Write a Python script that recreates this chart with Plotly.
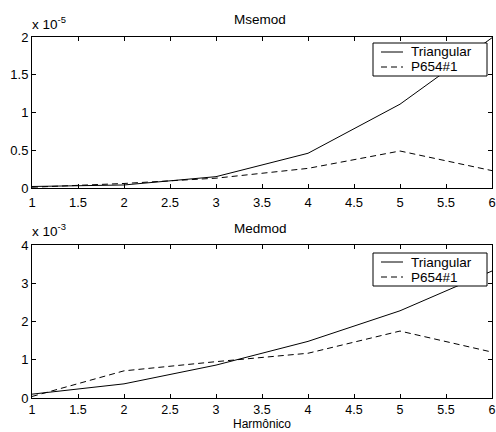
import plotly.graph_objects as go

harm = [1, 2, 3, 4, 5, 6]
# Msemod (x 1e-5)
msemod_tri = [0.02, 0.04, 0.15, 0.46, 1.11, 1.99]
msemod_p654 = [0.01, 0.06, 0.13, 0.26, 0.49, 0.23]
# Medmod (x 1e-3)
medmod_tri = [0.10, 0.37, 0.86, 1.48, 2.28, 3.32]
medmod_p654 = [0.04, 0.71, 0.95, 1.17, 1.75, 1.20]

series_names = ["Triangular", "P654#1"]
xticks = [1, 1.5, 2, 2.5, 3, 3.5, 4, 4.5, 5, 5.5, 6]
yticks_top = [0, 0.5, 1, 1.5, 2]
yticks_bot = [0, 1, 2, 3, 4]

FONT = "Liberation Sans, Arial, sans-serif"
W, H = 496, 432
DASH = "6px,4px"
TS = 13.5

fig = go.Figure()
fig.add_trace(go.Scatter(x=harm, y=msemod_tri, mode="lines", name=series_names[0],
                         line=dict(color="black", width=1), xaxis="x", yaxis="y"))
fig.add_trace(go.Scatter(x=harm, y=msemod_p654, mode="lines", name=series_names[1],
                         line=dict(color="black", width=1, dash=DASH), xaxis="x", yaxis="y"))
fig.add_trace(go.Scatter(x=harm, y=medmod_tri, mode="lines", name=series_names[0],
                         line=dict(color="black", width=1), xaxis="x2", yaxis="y2"))
fig.add_trace(go.Scatter(x=harm, y=medmod_p654, mode="lines", name=series_names[1],
                         line=dict(color="black", width=1, dash=DASH), xaxis="x2", yaxis="y2"))

xd = [32 / W, 492 / W]
ax_common = dict(showline=True, linecolor="black", linewidth=1, mirror="ticks", ticks="inside",
                 ticklen=4, tickcolor="black", showgrid=False, zeroline=False, automargin=False)
tf = dict(family=FONT, size=13, color="black")

def py(p):
    return 1 - p / H

shapes = []
annotations = [
    dict(text="Msemod", x=260 / W, y=py(20), xref="paper", yref="paper",
         xanchor="center", yanchor="middle", showarrow=False, font=dict(size=TS)),
    dict(text="Medmod", x=260 / W, y=py(228), xref="paper", yref="paper",
         xanchor="center", yanchor="middle", showarrow=False, font=dict(size=TS)),
    dict(text="Harmônico", x=262 / W, y=0, xref="paper", yref="paper", borderpad=0,
         xanchor="center", yanchor="bottom", showarrow=False, font=dict(size=12)),
    dict(text="x 10<sup>-5</sup>", x=30 / W, y=py(34), xref="paper", yref="paper",
         xanchor="left", yanchor="bottom", showarrow=False, font=dict(size=TS)),
    dict(text="x 10<sup>-3</sup>", x=30 / W, y=py(241), xref="paper", yref="paper",
         xanchor="left", yanchor="bottom", showarrow=False, font=dict(size=TS)),
]

# legend boxes (one per subplot)
for top in (43, 253):
    shapes.append(dict(type="rect", xref="paper", yref="paper",
                       x0=373 / W, x1=487 / W, y0=py(top + 33), y1=py(top),
                       line=dict(color="black", width=1), fillcolor="white", layer="above"))
    for i, name in enumerate(series_names):
        yy = top + 9 + 15 * i
        shapes.append(dict(type="line", xref="paper", yref="paper",
                           x0=381 / W, x1=403 / W, y0=py(yy), y1=py(yy),
                           line=dict(color="black", width=1, dash=None if i == 0 else DASH),
                           layer="above"))
        annotations.append(dict(text=name, x=409 / W, y=py(yy), xref="paper", yref="paper",
                                xanchor="left", yanchor="middle", showarrow=False,
                                font=dict(size=TS)))

fig.update_layout(
    width=W, height=H, margin=dict(l=0, r=0, t=0, b=0),
    paper_bgcolor="white", plot_bgcolor="white", showlegend=False,
    font=dict(family=FONT, size=13, color="black"),
    xaxis=dict(domain=xd, anchor="y", range=[1, 6], tickvals=xticks, ticklabelstandoff=2,
               ticktext=[f"{v:g}" for v in xticks], tickfont=tf, **ax_common),
    yaxis=dict(domain=[py(188), py(37)], anchor="x", range=[0, 2], tickvals=yticks_top,
               ticktext=[f"{v:g}" for v in yticks_top], tickfont=tf, **ax_common),
    xaxis2=dict(domain=xd, anchor="y2", range=[1, 6], tickvals=xticks, ticklabelstandoff=0,
                ticktext=[f"{v:g}" for v in xticks], tickfont=dict(tf, size=12.5), **ax_common),
    yaxis2=dict(domain=[py(398), py(245)], anchor="x2", range=[0, 4], tickvals=yticks_bot,
                ticktext=[f"{v:g}" for v in yticks_bot], tickfont=tf, **ax_common),
    shapes=shapes,
    annotations=annotations,
)

fig.write_html("out.html")
